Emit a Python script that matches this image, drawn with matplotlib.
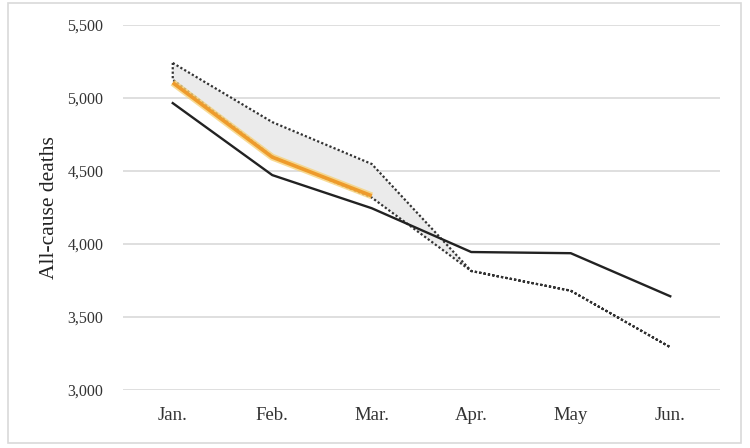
import matplotlib
matplotlib.use("Agg")
import matplotlib.pyplot as plt
from matplotlib.patches import Rectangle
import numpy as np

months = ["Jan.", "Feb.", "Mar.", "Apr.", "May", "Jun."]
observed = [4965, 4472, 4245, 3945, 3937, 3642]
upper = [5240, 4835, 4548, 3815, 3680, 3293]
lower = [5125, 4600, 4318, 3815, 3680, 3293]
expected = [5105, 4595, 4330]
yticks = [3000, 3500, 4000, 4500, 5000, 5500]

plt.rcParams['font.family'] = ['Liberation Serif', 'DejaVu Serif']

fig = plt.figure(figsize=(7.5, 4.48), dpi=100)
W, H = 750, 448
ax = fig.add_axes([123 / W, 1 - 390 / H, 597 / W, 365 / H])

x = np.arange(len(months))
# shaded band between upper and lower bounds
ax.fill_between(x, lower, upper, color='#EBEBEB', zorder=1, linewidth=0)
# dotted outline of the band
poly_x = list(x) + list(x[::-1]) + [x[0]]
poly_y = list(upper) + list(lower[::-1]) + [upper[0]]
ax.plot(poly_x, poly_y, color='#333333', linestyle=(0, (1, 1)), linewidth=1.6, zorder=3)
# observed
ax.plot(x, observed, color='#222222', linewidth=1.7, zorder=4)
# expected (orange)
xe = x[:len(expected)]
ax.plot(xe, expected, color='#F7D27A', linewidth=5, solid_capstyle='butt', zorder=5, alpha=0.8)
ax.plot(xe, expected, color='#EE9B2C', linewidth=2.6, solid_capstyle='butt', zorder=6)

ax.set_xlim(-0.5, len(months) - 0.5)
ax.set_ylim(3000, 5500)
ax.set_yticks(yticks)
ax.set_yticklabels([f"{v:,}" for v in yticks])
ax.set_xticks(x)
ax.set_xticklabels(months)
ax.yaxis.grid(True, color='#D9D9D9', linewidth=1.2, zorder=0)
ax.set_axisbelow(True)
for s in ax.spines.values():
    s.set_visible(False)
ax.tick_params(axis='both', length=0, colors='#333333')
ax.tick_params(axis='y', pad=14, labelsize=11.5)
ax.tick_params(axis='x', pad=12, labelsize=13.5)
ax.set_ylabel("All-cause deaths", fontsize=15.5, color='#222222', labelpad=6)

fig.patches.append(Rectangle((8 / W, 1 - 443 / H), 733 / W, 440 / H, transform=fig.transFigure,
                             fill=False, edgecolor='#D9D9D9', linewidth=1.2))

fig.savefig("out.png", dpi=100)
